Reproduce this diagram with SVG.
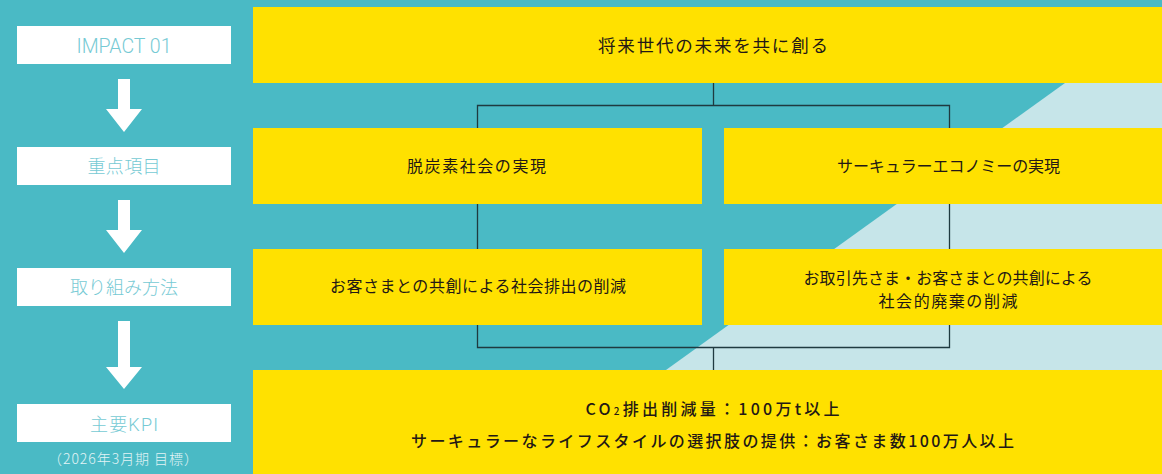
<svg xmlns="http://www.w3.org/2000/svg" width="1162" height="474" viewBox="0 0 1162 474">
  <style>
    .lbox { fill: #ffffff; }
    .ltxt { font-family: Roboto, "Noto Sans CJK JP", sans-serif; font-weight: 300; fill: #76cad4; text-anchor: middle; }
    .sub { font-family: "Noto Sans CJK JP", sans-serif; font-weight: 300; font-size: 14px; fill: #e2f4f6; text-anchor: middle; }
    .ybox { fill: #ffe100; }
    .ytxt { font-family: "Noto Sans CJK JP", sans-serif; font-size: 16px; fill: #231815; text-anchor: middle; }
    .kpi { font-weight: 500; }
    .arrow { fill: #ffffff; }
    .conn { fill: none; stroke: #1f3a40; stroke-width: 1.3; }
  </style>
  <rect x="0" y="0" width="1162" height="474" fill="#4abac5"/>
  <polygon points="1162,13.2 1162,474 521.4,474" fill="#c6e5e9"/>

  <g id="connectors">
    <path class="conn" d="M713.5,83 V105.5 M477.5,105.5 V347.5 H949.5 V105.5 Z M713.5,347.5 V370"/>
  </g>

  <g id="step-impact">
    <rect class="lbox" x="17" y="26" width="214" height="38"/>
    <text class="ltxt" x="124" y="53.3" font-size="20" textLength="95" lengthAdjust="spacingAndGlyphs">IMPACT 01</text>
  </g>
  <g id="arrow-1"><polygon class="arrow" points="118,79 130,79 130,109 142,109 124,132 106,109 118,109"/></g>
  <g id="step-focus">
    <rect class="lbox" x="17" y="147" width="214" height="38"/>
    <text class="ltxt" x="124" y="173.3" font-size="18" textLength="73">重点項目</text>
  </g>
  <g id="arrow-2"><polygon class="arrow" points="118,200 130,200 130,230 142,230 124,253 106,230 118,230"/></g>
  <g id="step-method">
    <rect class="lbox" x="17" y="268" width="214" height="38"/>
    <text class="ltxt" x="124" y="294.3" font-size="18" textLength="108">取り組み方法</text>
  </g>
  <g id="arrow-3"><polygon class="arrow" points="118,321 130,321 130,367 142,367 124,389 106,367 118,367"/></g>
  <g id="step-kpi">
    <rect class="lbox" x="17" y="404" width="214" height="38"/>
    <text class="ltxt" x="124" y="430.8" font-size="18" textLength="68">主要KPI</text>
    <text class="sub" x="123" y="464" textLength="150">（2026年3月期 目標）</text>
  </g>

  <g id="impact">
    <rect class="ybox" x="253" y="7" width="909" height="76"/>
    <text class="ytxt" x="713" y="52" style="font-size:17.5px" textLength="230">将来世代の未来を共に創る</text>
  </g>
  <g id="focus-decarbon">
    <rect class="ybox" x="253" y="128" width="449" height="76"/>
    <text class="ytxt" x="476.5" y="172" textLength="139">脱炭素社会の実現</text>
  </g>
  <g id="focus-circular">
    <rect class="ybox" x="724" y="128" width="438" height="76"/>
    <text class="ytxt" x="948.5" y="172" textLength="223">サーキュラーエコノミーの実現</text>
  </g>
  <g id="method-emission">
    <rect class="ybox" x="253" y="249" width="449" height="76"/>
    <text class="ytxt" x="478" y="292" textLength="296">お客さまとの共創による社会排出の削減</text>
  </g>
  <g id="method-waste">
    <rect class="ybox" x="724" y="249" width="438" height="76"/>
    <text class="ytxt" x="948" y="283.5" textLength="289">お取引先さま・お客さまとの共創による</text>
    <text class="ytxt" x="948" y="306.5" textLength="139">社会的廃棄の削減</text>
  </g>
  <g id="kpi">
    <rect class="ybox" x="253" y="370" width="909" height="104"/>
    <text class="ytxt kpi" x="712.5" y="415" textLength="254">CO<tspan font-size="10">2</tspan>排出削減量：100万t以上</text>
    <text class="ytxt kpi" x="712.5" y="446.5" textLength="603">サーキュラーなライフスタイルの選択肢の提供：お客さま数100万人以上</text>
  </g>
</svg>
